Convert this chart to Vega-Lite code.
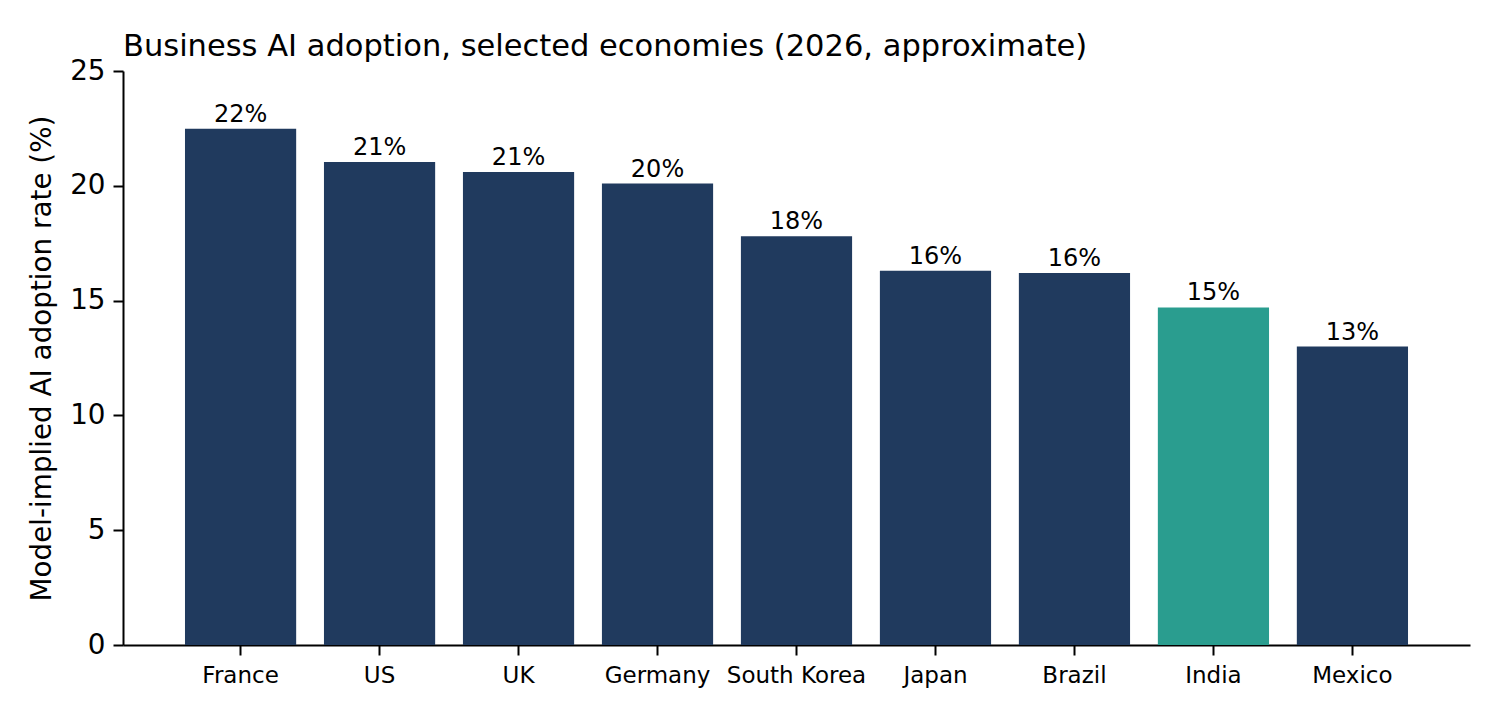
{
  "$schema": "https://vega.github.io/schema/vega-lite/v6.json",
  "width": 1347,
  "height": 574,
  "autosize": {"type": "none"},
  "padding": {"left": 123, "top": 71, "right": 30, "bottom": 75},
  "background": "white",
  "config": {
    "view": {"stroke": null},
    "font": "DejaVu Sans",
    "axis": {
      "domainColor": "black",
      "domainWidth": 2,
      "tickColor": "black",
      "tickWidth": 2,
      "tickSize": 10,
      "labelColor": "black",
      "labelFont": "DejaVu Sans",
      "titleFont": "DejaVu Sans",
      "titleColor": "black",
      "titleFontWeight": "normal",
      "grid": false
    }
  },
  "title": {
    "text": "Business AI adoption, selected economies (2026, approximate)",
    "anchor": "start",
    "frame": "group",
    "font": "DejaVu Sans",
    "fontSize": 30.5,
    "fontWeight": "normal",
    "color": "black",
    "baseline": "alphabetic",
    "offset": 17,
    "dy": 46
  },
  "data": {
    "values": [
      {"country": "France", "rate": 22.48, "label": "22%"},
      {"country": "US", "rate": 21.04, "label": "21%"},
      {"country": "UK", "rate": 20.6, "label": "21%"},
      {"country": "Germany", "rate": 20.1, "label": "20%"},
      {"country": "South Korea", "rate": 17.8, "label": "18%"},
      {"country": "Japan", "rate": 16.3, "label": "16%"},
      {"country": "Brazil", "rate": 16.2, "label": "16%"},
      {"country": "India", "rate": 14.7, "label": "15%"},
      {"country": "Mexico", "rate": 13.0, "label": "13%"}
    ]
  },
  "encoding": {
    "x": {
      "field": "country",
      "type": "nominal",
      "sort": null,
      "scale": {"paddingInner": 0.2, "paddingOuter": 0.446},
      "axis": {
        "title": null,
        "labelAngle": 0,
        "labelFontSize": 23,
        "labelPadding": 9
      }
    },
    "y": {
      "field": "rate",
      "type": "quantitative",
      "scale": {"domain": [0, 25], "nice": false},
      "axis": {
        "title": "Model-implied AI adoption rate (%)",
        "titleFontSize": 27.8,
        "titleX": -81,
        "titleBaseline": "middle",
        "values": [0, 5, 10, 15, 20, 25],
        "labelFontSize": 27.8,
        "labelPadding": 8
      }
    }
  },
  "layer": [
    {
      "mark": {"type": "bar"},
      "encoding": {
        "color": {
          "condition": {"test": "datum.country === 'India'", "value": "#2a9d8f"},
          "value": "#203a5e"
        }
      }
    },
    {
      "mark": {
        "type": "text",
        "baseline": "alphabetic",
        "dy": -7,
        "fontSize": 24,
        "font": "DejaVu Sans",
        "color": "black"
      },
      "encoding": {
        "text": {"field": "label", "type": "nominal"}
      }
    }
  ]
}
